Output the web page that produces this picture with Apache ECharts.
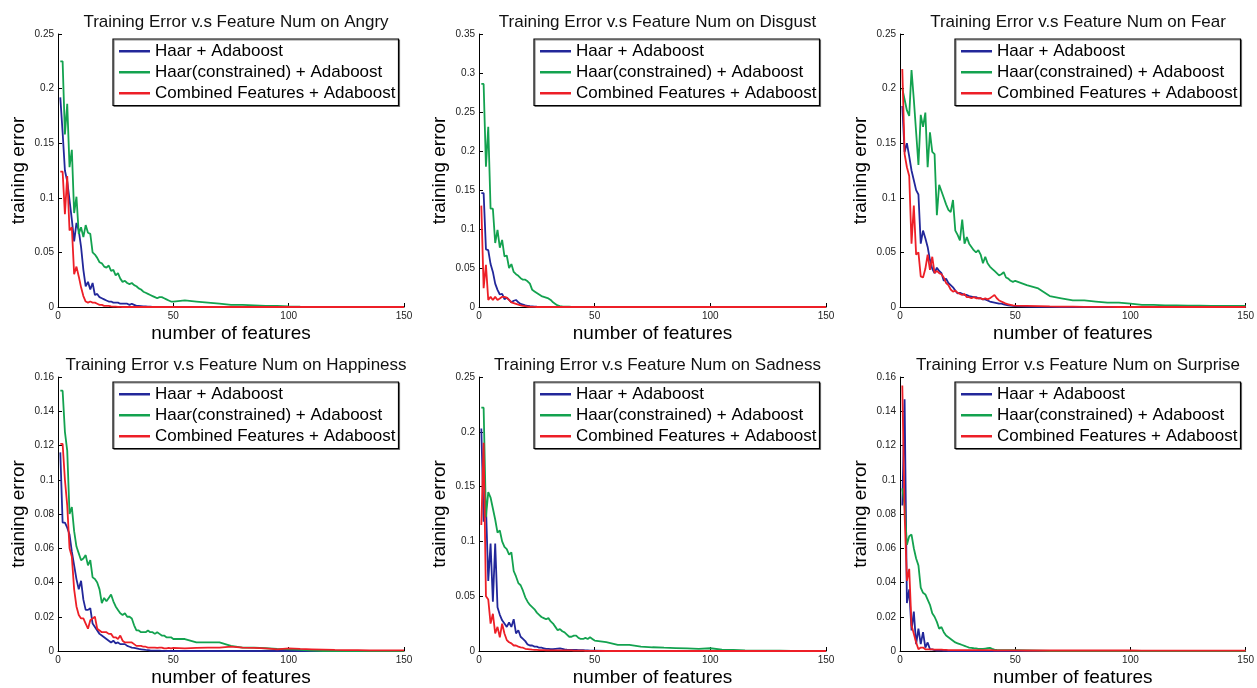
<!DOCTYPE html>
<html>
<head>
<meta charset="utf-8">
<script src="https://cdn.jsdelivr.net/npm/echarts@6/dist/echarts.min.js"></script>
<style>
  html, body { margin: 0; padding: 0; background: #fff; }
  #chart { width: 1257px; height: 688px; }
</style>
</head>
<body>
<div id="chart"></div>
<script>
// x positions (number of features) shared by every curve
const features = [
  1, 2, 3, 4, 5, 6, 7, 8, 9, 10, 11, 12, 13, 14, 15, 16, 17, 18, 19, 20,
  21, 22, 23, 24, 25, 26, 27, 28, 29, 30, 31, 32, 33, 34, 35, 36, 37, 38, 39, 40,
  41, 42, 43, 44, 45, 46, 47, 48, 49, 50,
  55, 60, 65, 70, 75, 80, 85, 90, 95, 100, 105, 110, 115, 120, 125, 130, 135, 140, 145, 150
]

const seriesNames = ['Haar + Adaboost', 'Haar(constrained) + Adaboost', 'Combined Features + Adaboost']
const seriesColors = ['#22279a', '#13a24f', '#ed1f27']

const emotions = ['Angry', 'Disgust', 'Fear', 'Happiness', 'Sadness', 'Surprise']
const yMax = [0.25, 0.35, 0.25, 0.16, 0.25, 0.16]
const yStep = [0.05, 0.05, 0.05, 0.02, 0.05, 0.02]
const xTicks = [0, 50, 100, 150]

// ---- Angry ----
const angryHaar = [
  0.192, 0.16, 0.125, 0.115, 0.098, 0.08, 0.06, 0.077, 0.07, 0.055,
  0.034, 0.019, 0.023, 0.016, 0.022, 0.011, 0.012, 0.009, 0.008, 0.007,
  0.006, 0.005, 0.005, 0.004, 0.004, 0.004, 0.003, 0.003, 0.003, 0.003,
  0.002, 0.003, 0.002, 0.001, 0.001, 0.0008, 0.0006, 0.0005, 0.0004, 0.0003,
  0.0002, 0.0002, 0.0001, 0.0001, 0, 0, 0, 0, 0, 0,
  0, 0, 0, 0, 0, 0, 0, 0, 0, 0, 0, 0, 0, 0, 0, 0, 0, 0, 0, 0
]
const angryHaarC = [
  0.225, 0.225, 0.158, 0.186, 0.128, 0.144, 0.086, 0.101, 0.067, 0.073,
  0.064, 0.075, 0.068, 0.067, 0.05, 0.048, 0.045, 0.041, 0.04, 0.037,
  0.036, 0.038, 0.033, 0.034, 0.029, 0.031, 0.026, 0.023, 0.024, 0.022,
  0.021, 0.022, 0.02, 0.019, 0.017, 0.016, 0.014, 0.013, 0.012, 0.011,
  0.01, 0.009, 0.008, 0.009, 0.009, 0.008, 0.007, 0.006, 0.005, 0.005,
  0.006, 0.005, 0.004, 0.003, 0.002, 0.002, 0.0015, 0.001, 0.001, 0.0005,
  0.0003, 0.0002, 0, 0, 0, 0, 0, 0, 0, 0
]
const angryComb = [
  0.124, 0.124, 0.085, 0.12, 0.07, 0.073, 0.03, 0.037, 0.028, 0.018,
  0.01, 0.005, 0.004, 0.005, 0.004, 0.004, 0.003, 0.002, 0.002, 0.001,
  0.001, 0.001, 0.0005, 0.0004, 0.0003, 0.0002, 0.0001, 0, 0, 0,
  0, 0, 0, 0, 0, 0, 0, 0, 0, 0,
  0, 0, 0, 0, 0, 0, 0, 0, 0, 0,
  0, 0, 0, 0, 0, 0, 0, 0, 0, 0, 0, 0, 0, 0, 0, 0, 0, 0, 0, 0
]

// ---- Disgust ----
const disgustHaar = [
  0.146, 0.146, 0.074, 0.073, 0.055, 0.045, 0.03, 0.022, 0.016, 0.017,
  0.01, 0.012, 0.009, 0.006, 0.008, 0.009, 0.006, 0.004, 0.003, 0.002,
  0.0015, 0.001, 0.0008, 0.0005, 0.0003, 0.0002, 0, 0, 0, 0,
  0, 0, 0, 0, 0, 0, 0, 0, 0, 0,
  0, 0, 0, 0, 0, 0, 0, 0, 0, 0,
  0, 0, 0, 0, 0, 0, 0, 0, 0, 0, 0, 0, 0, 0, 0, 0, 0, 0, 0, 0
]
const disgustHaarC = [
  0.286, 0.286, 0.18, 0.231, 0.126, 0.126, 0.082, 0.099, 0.076, 0.086,
  0.065, 0.066, 0.05, 0.055, 0.045, 0.042, 0.04, 0.037, 0.035, 0.035,
  0.033, 0.03, 0.022, 0.02, 0.018, 0.016, 0.014, 0.013, 0.012, 0.011,
  0.009, 0.006, 0.004, 0.002, 0.0012, 0.0008, 0.0005, 0.0003, 0.0003, 0.0002,
  0.0002, 0.0001, 0.0001, 0, 0, 0, 0, 0, 0, 0,
  0, 0, 0, 0, 0, 0, 0, 0, 0, 0, 0, 0, 0, 0, 0, 0, 0, 0, 0, 0
]
const disgustComb = [
  0.13, 0.024, 0.054, 0.009, 0.013, 0.009, 0.013, 0.009, 0.011, 0.013,
  0.013, 0.012, 0.009, 0.006, 0.005, 0.004, 0.003, 0.002, 0.0015, 0.001,
  0.0005, 0.0003, 0.0002, 0.0001, 0, 0, 0, 0, 0, 0,
  0, 0, 0, 0, 0, 0, 0, 0, 0, 0,
  0, 0, 0, 0, 0, 0, 0, 0, 0, 0,
  0, 0, 0, 0, 0, 0, 0, 0, 0, 0, 0, 0, 0, 0, 0, 0, 0, 0, 0, 0
]

// ---- Fear ----
const fearHaar = [
  0.184, 0.142, 0.15, 0.138, 0.125, 0.116, 0.107, 0.103, 0.058, 0.07,
  0.063, 0.055, 0.043, 0.035, 0.031, 0.036, 0.033, 0.031, 0.024, 0.026,
  0.022, 0.02, 0.018, 0.015, 0.0125, 0.013, 0.012, 0.011, 0.011, 0.01,
  0.0095, 0.009, 0.009, 0.008, 0.008, 0.007, 0.007, 0.006, 0.005, 0.0045,
  0.004, 0.0035, 0.003, 0.003, 0.0025, 0.002, 0.0015, 0.0012, 0.001, 0.0008,
  0.0003, 0.0002, 0.0001, 0, 0, 0, 0, 0, 0, 0, 0, 0, 0, 0, 0, 0, 0, 0, 0, 0
]
const fearHaarC = [
  0.2, 0.19, 0.18, 0.175, 0.217, 0.19, 0.16, 0.13, 0.176, 0.165,
  0.178, 0.128, 0.16, 0.142, 0.14, 0.084, 0.112, 0.106, 0.1, 0.094,
  0.089, 0.087, 0.098, 0.07, 0.066, 0.061, 0.08, 0.058, 0.064, 0.058,
  0.055, 0.052, 0.05, 0.052, 0.048, 0.04, 0.046, 0.04, 0.037, 0.035,
  0.033, 0.031, 0.029, 0.03, 0.032, 0.027, 0.026, 0.024, 0.023, 0.024,
  0.02, 0.017, 0.01, 0.008, 0.006, 0.006, 0.005, 0.004, 0.004, 0.003,
  0.002, 0.002, 0.0015, 0.0015, 0.0012, 0.0012, 0.001, 0.001, 0.001, 0.001
]
const fearComb = [
  0.218, 0.14, 0.128, 0.12, 0.058, 0.093, 0.048, 0.05, 0.028, 0.027,
  0.035, 0.048, 0.034, 0.046, 0.031, 0.033, 0.031, 0.03, 0.027, 0.022,
  0.02, 0.016, 0.014, 0.015, 0.013, 0.012, 0.011, 0.012, 0.009, 0.009,
  0.008, 0.009, 0.008, 0.008, 0.008, 0.007, 0.008, 0.007, 0.008, 0.0095,
  0.011, 0.008, 0.006, 0.005, 0.004, 0.003, 0.0025, 0.002, 0.0015, 0.0012,
  0.001, 0.0008, 0.0005, 0.0003, 0.0003, 0.0002, 0.0002, 0.0001, 0, 0,
  0, 0, 0, 0, 0, 0, 0, 0, 0, 0
]

// ---- Happiness ----
const happyHaar = [
  0.116, 0.075, 0.075, 0.072, 0.068, 0.058, 0.05, 0.042, 0.036, 0.041,
  0.03, 0.024, 0.024, 0.025, 0.016, 0.014, 0.012, 0.01, 0.009, 0.008,
  0.007, 0.006, 0.005, 0.006, 0.0045, 0.005, 0.004, 0.004, 0.004, 0.003,
  0.0025, 0.002, 0.0018, 0.0015, 0.0012, 0.001, 0.0008, 0.0006, 0.0005, 0.0003,
  0.0002, 0.0002, 0.0002, 0.0002, 0.0001, 0.0001, 0, 0, 0, 0,
  0, 0, 0, 0, 0, 0, 0, 0, 0, 0, 0, 0, 0, 0, 0, 0, 0, 0, 0, 0
]
const happyHaarC = [
  0.152, 0.152, 0.128, 0.117, 0.08, 0.084, 0.07, 0.061, 0.057, 0.053,
  0.054, 0.056, 0.05, 0.053, 0.043, 0.042, 0.04, 0.036, 0.028, 0.031,
  0.029, 0.031, 0.033, 0.029, 0.026, 0.024, 0.022, 0.021, 0.022, 0.02,
  0.02, 0.019, 0.015, 0.012, 0.012, 0.011, 0.011, 0.011, 0.012, 0.011,
  0.011, 0.01, 0.011, 0.01, 0.009, 0.009, 0.008, 0.008, 0.008, 0.007,
  0.007, 0.005, 0.005, 0.005, 0.003, 0.002, 0.002, 0.0016, 0.0012, 0.001,
  0.0006, 0.0003, 0, 0, 0, 0, 0, 0, 0, 0
]
const happyComb = [
  0.121, 0.121, 0.1, 0.085, 0.06, 0.055, 0.036, 0.026, 0.021, 0.019,
  0.019, 0.016, 0.013, 0.018, 0.019, 0.02, 0.013, 0.012, 0.011, 0.011,
  0.011, 0.01, 0.01, 0.008, 0.008, 0.007, 0.009, 0.006, 0.005, 0.005,
  0.005, 0.005, 0.004, 0.003, 0.003, 0.003, 0.0025, 0.0025, 0.002, 0.002,
  0.002, 0.002, 0.0018, 0.002, 0.002, 0.0015, 0.0015, 0.0018, 0.0015, 0.0018,
  0.0015, 0.0018, 0.002, 0.002, 0.0025, 0.002, 0.0018, 0.0015, 0.001, 0.0015,
  0.0012, 0.001, 0.0008, 0.0006, 0.0005, 0.0005, 0.0004, 0.0004, 0.0004, 0.0004
]

// ---- Sadness ----
const sadHaar = [
  0.203, 0.118, 0.133, 0.064, 0.098, 0.045, 0.098, 0.04, 0.033, 0.028,
  0.025, 0.022, 0.026, 0.022, 0.029, 0.016, 0.019, 0.013, 0.011, 0.009,
  0.006, 0.005, 0.005, 0.004, 0.004, 0.003, 0.003, 0.0025, 0.002, 0.002,
  0.0018, 0.0018, 0.002, 0.0022, 0.0024, 0.002, 0.0015, 0.0012, 0.001, 0.001,
  0.001, 0.001, 0.0008, 0.0008, 0.0008, 0.0006, 0.0005, 0.0004, 0.0003, 0.0003,
  0, 0, 0, 0, 0, 0, 0, 0, 0, 0, 0, 0, 0, 0, 0, 0, 0, 0, 0, 0
]
const sadHaarC = [
  0.222, 0.222, 0.122, 0.145, 0.14, 0.13, 0.12, 0.108, 0.11, 0.1,
  0.095, 0.093, 0.088, 0.09, 0.073, 0.068, 0.062, 0.06, 0.055, 0.049,
  0.045, 0.042, 0.04, 0.038, 0.035, 0.033, 0.031, 0.03, 0.029, 0.03,
  0.027, 0.025, 0.022, 0.019, 0.02, 0.018, 0.017, 0.015, 0.013, 0.013,
  0.014, 0.014, 0.012, 0.011, 0.011, 0.012, 0.011, 0.0125, 0.011, 0.0095,
  0.008, 0.0055, 0.0055, 0.004, 0.0034, 0.003, 0.0027, 0.0024, 0.002, 0.0025,
  0.0012, 0.001, 0.0006, 0.0004, 0.0003, 0.0003, 0.0002, 0.0002, 0.0001, 0.0001
]
const sadComb = [
  0.115, 0.19, 0.05, 0.047, 0.025, 0.034, 0.016, 0.022, 0.0125, 0.025,
  0.016, 0.01, 0.008, 0.007, 0.005, 0.005, 0.004, 0.0034, 0.003, 0.002,
  0.0018, 0.0015, 0.0012, 0.001, 0.001, 0.0008, 0.0008, 0.0008, 0.0006, 0.0006,
  0.0005, 0.0005, 0.0005, 0.0005, 0.0005, 0.0005, 0.0005, 0.0005, 0.0005, 0.0005,
  0.0003, 0.0003, 0.0003, 0.0003, 0.0003, 0.0002, 0.0002, 0.0002, 0.0002, 0.0002,
  0, 0, 0, 0, 0, 0, 0, 0, 0, 0, 0, 0, 0, 0, 0, 0, 0, 0, 0, 0
]

// ---- Surprise ----
const surpriseHaar = [
  0.085, 0.147, 0.028, 0.036, 0.012, 0.023, 0.004, 0.013, 0.004, 0.011,
  0.002, 0.005, 0.001, 0.001, 0.0005, 0.0003, 0.0002, 0.0002, 0.0001, 0.0001,
  0, 0, 0, 0, 0, 0, 0, 0, 0, 0,
  0, 0, 0, 0, 0, 0, 0, 0, 0, 0,
  0, 0, 0, 0, 0, 0, 0, 0, 0, 0,
  0, 0, 0, 0, 0, 0, 0, 0, 0, 0, 0, 0, 0, 0, 0, 0, 0, 0, 0, 0
]
const surpriseHaarC = [
  0.095, 0.085, 0.062, 0.067, 0.068, 0.06, 0.054, 0.05, 0.037, 0.034,
  0.033, 0.03, 0.027, 0.022, 0.02, 0.017, 0.013, 0.014, 0.011, 0.009,
  0.008, 0.007, 0.006, 0.005, 0.0045, 0.004, 0.0035, 0.003, 0.0025, 0.002,
  0.0018, 0.0016, 0.0015, 0.0013, 0.0012, 0.0012, 0.0014, 0.0016, 0.0018, 0.0012,
  0.0008, 0.0006, 0.0005, 0.0005, 0.0005, 0.0005, 0.0005, 0.0005, 0.0005, 0.0005,
  0.0004, 0.0002, 0, 0, 0, 0, 0, 0, 0, 0, 0, 0, 0, 0, 0, 0, 0, 0, 0, 0
]
const surpriseComb = [
  0.155, 0.08, 0.041, 0.048, 0.015, 0.01, 0.005, 0.001, 0.002, 0.002,
  0.001, 0.001, 0.001, 0.001, 0.0008, 0.0008, 0.0008, 0.0008, 0.0006, 0.0006,
  0.0005, 0.0005, 0.0005, 0.0005, 0.0005, 0.0005, 0.0005, 0.0005, 0.0005, 0.0005,
  0.0005, 0.0005, 0.0005, 0.0005, 0.0005, 0.0005, 0.0005, 0.0005, 0.0005, 0.0005,
  0.0004, 0.0004, 0.0004, 0.0004, 0.0004, 0.0004, 0.0004, 0.0004, 0.0004, 0.0004,
  0.0003, 0.0003, 0.0003, 0.0003, 0.0003, 0.0003, 0.0003, 0.0003, 0.0003, 0.0003,
  0.0002, 0.0002, 0.0002, 0.0002, 0.0002, 0.0002, 0.0002, 0.0002, 0.0002, 0.0002
]

const panelSeries = [
  [angryHaar, angryHaarC, angryComb],
  [disgustHaar, disgustHaarC, disgustComb],
  [fearHaar, fearHaarC, fearComb],
  [happyHaar, happyHaarC, happyComb],
  [sadHaar, sadHaarC, sadComb],
  [surpriseHaar, surpriseHaarC, surpriseComb]
]

// plot rectangles [left, top, width, height]
const panels = [
  [58, 34, 346, 273],
  [479, 34, 347, 273],
  [900, 34, 346, 273],
  [58, 377, 346, 274],
  [479, 377, 347, 274],
  [900, 377, 346, 274]
]

const FONT = '"Liberation Sans", Arial, Helvetica, sans-serif'

const grid = []
const xAxis = []
const yAxis = []
const title = []
const legend = []
const series = []

panels.forEach(([left, top, width, height], p) => {
  grid.push({ left, top, width, height, containLabel: false })

  xAxis.push({
    gridIndex: p,
    type: 'value',
    min: xTicks[0],
    max: xTicks[xTicks.length - 1],
    interval: 50,
    name: 'number of features',
    nameLocation: 'middle',
    nameGap: 17,
    nameTextStyle: { fontFamily: FONT, fontSize: 19, color: '#000' },
    axisLine: { lineStyle: { color: '#000', width: 1 } },
    axisTick: { inside: true, length: 4, lineStyle: { color: '#000' } },
    axisLabel: { margin: 4, fontFamily: FONT, fontSize: 10, color: '#222' },
    splitLine: { show: false }
  })

  yAxis.push({
    gridIndex: p,
    type: 'value',
    min: 0,
    max: yMax[p],
    interval: yStep[p],
    name: 'training error',
    nameLocation: 'middle',
    nameGap: 30,
    nameTextStyle: { fontFamily: FONT, fontSize: 19, color: '#000' },
    axisLine: { show: true, lineStyle: { color: '#000', width: 1 } },
    axisTick: { show: true, inside: true, length: 4, lineStyle: { color: '#000' } },
    axisLabel: { margin: 4, fontFamily: FONT, fontSize: 10, color: '#222' },
    splitLine: { show: false }
  })

  title.push({
    text: 'Training Error v.s Feature Num on ' + emotions[p],
    left: left + width / 2,
    top: top - 25,
    textAlign: 'center',
    textStyle: { fontFamily: FONT, fontSize: 17, fontWeight: 'normal', color: '#111' }
  })

  legend.push({
    data: seriesNames,
    orient: 'vertical',
    left: left + 55,
    top: top + 5,
    padding: [2, 3, 2, 6],
    itemGap: 0.5,
    itemWidth: 31,
    itemHeight: 2.5,
    icon: 'rect',
    backgroundColor: '#fff',
    borderColor: '#000',
    borderWidth: 1.2,
    shadowColor: 'rgba(0,0,0,0.45)',
    shadowOffsetX: 1,
    shadowOffsetY: 1,
    shadowBlur: 0,
    selectedMode: false,
    textStyle: { fontFamily: FONT, fontSize: 17, lineHeight: 20.5, color: '#000' }
  })

  panelSeries[p].forEach((values, s) => {
    series.push({
      name: seriesNames[s],
      type: 'line',
      xAxisIndex: p,
      yAxisIndex: p,
      symbol: 'none',
      data: features.map((f, i) => [f, values[i]]),
      lineStyle: { color: seriesColors[s], width: 1.8 },
      itemStyle: { color: seriesColors[s] },
      animation: false
    })
  })
})

const chart = echarts.init(document.getElementById('chart'), null, { renderer: 'canvas' })
chart.setOption({
  backgroundColor: '#fff',
  animation: false,
  grid,
  xAxis,
  yAxis,
  title,
  legend,
  series
})
</script>
</body>
</html>
